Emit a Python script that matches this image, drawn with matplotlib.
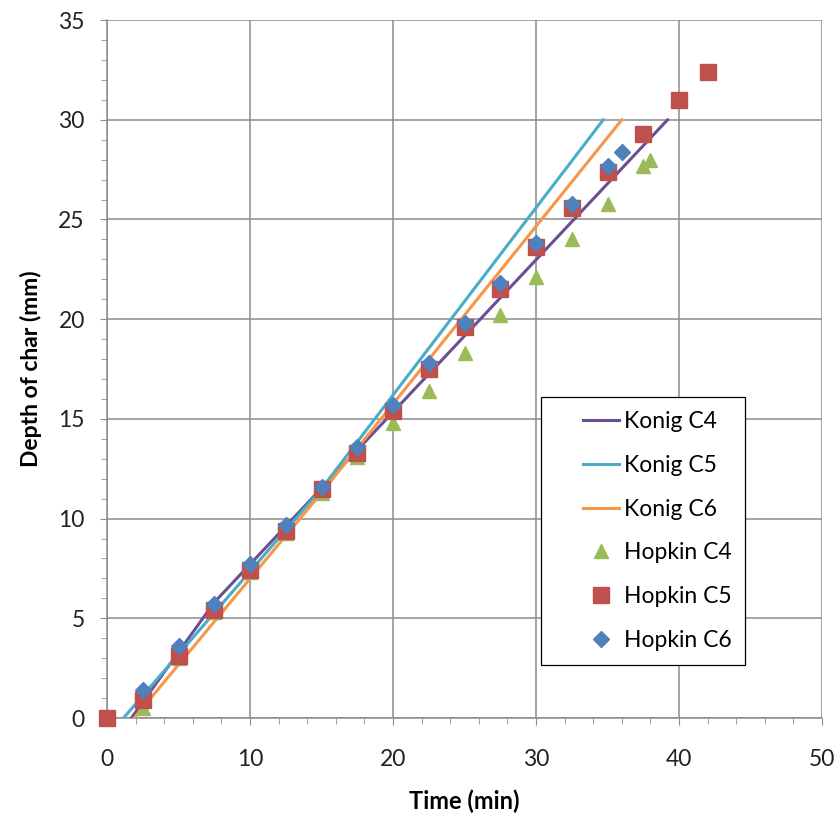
import matplotlib.pyplot as plt
from matplotlib.ticker import MultipleLocator
from matplotlib.legend_handler import HandlerLine2D
from matplotlib.lines import Line2D

plt.rcParams['font.family'] = ['Lato', 'DejaVu Sans']

# Konig model lines (time, depth)
konig_c4_t = [1.7, 7.5, 39.2]
konig_c4_d = [0.0, 5.8, 30.0]
konig_c5_t = [1.15, 15.0, 34.7]
konig_c5_d = [0.0, 11.5, 30.0]
konig_c6_t = [1.9, 15.0, 36.0]
konig_c6_d = [0.0, 11.3, 30.0]

# Hopkin measurements
hop_c4_t = [2.5, 5, 7.5, 10, 12.5, 15, 17.5, 20, 22.5, 25, 27.5, 30, 32.5, 35, 37.5, 38]
hop_c4_d = [0.5, 3.0, 5.3, 7.3, 9.3, 11.3, 13.1, 14.8, 16.4, 18.3, 20.2, 22.1, 24.0, 25.8, 27.7, 28.0]
hop_c5_t = [0, 2.5, 5, 7.5, 10, 12.5, 15, 17.5, 20, 22.5, 25, 27.5, 30, 32.5, 35, 37.5, 40, 42]
hop_c5_d = [0.0, 0.9, 3.1, 5.4, 7.4, 9.4, 11.5, 13.3, 15.4, 17.5, 19.6, 21.5, 23.6, 25.6, 27.4, 29.3, 31.0, 32.4]
hop_c6_t = [2.5, 5, 7.5, 10, 12.5, 15, 17.5, 20, 22.5, 25, 27.5, 30, 32.5, 35, 36]
hop_c6_d = [1.4, 3.6, 5.7, 7.7, 9.7, 11.6, 13.6, 15.7, 17.8, 19.8, 21.8, 23.8, 25.8, 27.7, 28.4]

fig = plt.figure(figsize=(8.4, 8.18), dpi=100)
ax = fig.add_axes([0.1274, 0.1222, 0.8512, 0.8533])

ax.plot(konig_c4_t, konig_c4_d, color='#6B4F94', lw=2.2, label='Konig C4', zorder=3)
ax.plot(konig_c5_t, konig_c5_d, color='#4BACC6', lw=2.2, label='Konig C5', zorder=3)
ax.plot(konig_c6_t, konig_c6_d, color='#F79646', lw=2.2, label='Konig C6', zorder=3)
ax.plot(hop_c4_t, hop_c4_d, ls='none', marker='^', ms=10, color='#9BBB59', label='Hopkin C4', zorder=4)
ax.plot(hop_c5_t, hop_c5_d, ls='none', marker='s', ms=11, color='#C0504D', label='Hopkin C5',
        zorder=5, clip_on=False)
ax.plot(hop_c6_t, hop_c6_d, ls='none', marker='D', ms=8, color='#4F81BD', label='Hopkin C6', zorder=6)

ax.set_xlim(0, 50)
ax.set_ylim(0, 35)
ax.xaxis.set_major_locator(MultipleLocator(10))
ax.xaxis.set_minor_locator(MultipleLocator(2))
ax.yaxis.set_major_locator(MultipleLocator(5))
ax.yaxis.set_minor_locator(MultipleLocator(1))
ax.grid(which='major', color='#8c8c8c', lw=1.1)
ax.set_axisbelow(True)

for s in ['top', 'right']:
    ax.spines[s].set_visible(False)
for s in ['left', 'bottom']:
    ax.spines[s].set_color('#8c8c8c')
    ax.spines[s].set_linewidth(1.1)

ax.tick_params(which='major', direction='out', length=5, color='#8c8c8c', labelsize=16.5, labelcolor='#222222')
ax.tick_params(which='minor', direction='out', length=4, color='#8c8c8c')
ax.tick_params(axis='x', which='major', pad=17)
ax.tick_params(axis='y', which='major', pad=11)

ax.set_xlabel('Time (min)', fontsize=17, fontweight='bold', labelpad=14)
ax.set_ylabel('Depth of char (mm)', fontsize=16.5, fontweight='bold', labelpad=12)

# shift legend handles to the right, as in the Excel legend
leg = ax.legend(loc='upper left', bbox_to_anchor=(0.607, 0.46), fontsize=16.5,
                frameon=True, fancybox=False, edgecolor='black', framealpha=1,
                handlelength=2.8, handletextpad=0.2, labelspacing=1.0,
                borderpad=0.6, borderaxespad=0,
                handler_map={Line2D: HandlerLine2D(xpad=1.25)})
leg.get_frame().set_linewidth(0.9)
leg.set_zorder(10)

fig.savefig('out.png', dpi=100)
